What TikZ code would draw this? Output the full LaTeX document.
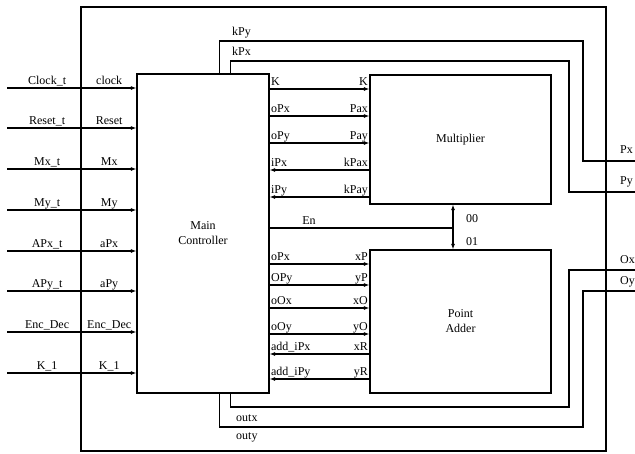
\documentclass[tikz,border=0pt]{standalone}
\usepackage{fontspec}
\setmainfont{Liberation Serif}
\usetikzlibrary{arrows.meta,calc}
\tikzset{
  chip/.style       = {draw, line width=1.5pt},
  block/.style      = {draw, line width=1.2pt, fill=white, inner sep=2pt, align=center},
  sig/.style        = {-{Latex[length=5.5pt,width=4pt]}, line width=1.1pt},
  bisig/.style      = {{Latex[length=5.5pt,width=4pt]}-{Latex[length=5.5pt,width=4pt]}, line width=1.1pt},
  wire/.style       = {line width=1.1pt},
  every node/.style = {font=\fontsize{12}{15}\selectfont},
  lbl/.style        = {inner sep=1pt, anchor=base, yshift=4pt},
  tag/.style        = {inner sep=1pt, anchor=base},
}

\begin{document}
\begin{tikzpicture}[x=1pt, y=-1pt]
  \useasboundingbox (0,0) rectangle (635,453);
  % boundary and blocks
  \node[chip, minimum width=525pt, minimum height=444pt] (top) at (343.5,229) {};
  \node[block, minimum width=132pt, minimum height=319pt] (main) at (203,233.5) {Main\\Controller};
  \node[block, minimum width=181pt, minimum height=129pt] (mult) at (460.5,139.5) {Multiplier};
  \node[block, minimum width=181pt, minimum height=143pt] (padd) at (460.5,321.5) {Point\\Adder};

  % top-level inputs
  \coordinate (clk) at (7,88);
  \coordinate (rst) at (7,128);
  \coordinate (mx)  at (7,169);
  \coordinate (my)  at (7,210);
  \coordinate (apx) at (7,251);
  \coordinate (apy) at (7,291);
  \coordinate (enc) at (7,332);
  \coordinate (kin) at (7,373);
  \draw[sig] (clk) -- (main.west |- clk) node[lbl, pos=.31] {Clock\_t} node[lbl, pos=.79] {clock};
  \draw[sig] (rst) -- (main.west |- rst) node[lbl, pos=.31] {Reset\_t} node[lbl, pos=.79] {Reset};
  \draw[sig] (mx) -- (main.west |- mx) node[lbl, pos=.31] {Mx\_t} node[lbl, pos=.79] {Mx};
  \draw[sig] (my) -- (main.west |- my) node[lbl, pos=.31] {My\_t} node[lbl, pos=.79] {My};
  \draw[sig] (apx) -- (main.west |- apx) node[lbl, pos=.31] {APx\_t} node[lbl, pos=.79] {aPx};
  \draw[sig] (apy) -- (main.west |- apy) node[lbl, pos=.31] {APy\_t} node[lbl, pos=.79] {aPy};
  \draw[sig] (enc) -- (main.west |- enc) node[lbl, pos=.31] {Enc\_Dec} node[lbl, pos=.79] {Enc\_Dec};
  \draw[sig] (kin) -- (main.west |- kin) node[lbl, pos=.31] {K\_1} node[lbl, pos=.79] {K\_1};

  % multiplier interface
  \coordinate (k)    at (320,89);
  \coordinate (mopx) at (320,116);
  \coordinate (mopy) at (320,143);
  \coordinate (ipx)  at (320,170);
  \coordinate (ipy)  at (320,197);
  \draw[sig] (main.east |- k) -- (mult.west |- k)
    node[lbl, anchor=base west, pos=0] {K} node[lbl, anchor=base east, pos=1] {K};
  \draw[sig] (main.east |- mopx) -- (mult.west |- mopx)
    node[lbl, anchor=base west, pos=0] {oPx} node[lbl, anchor=base east, pos=1] {Pax};
  \draw[sig] (main.east |- mopy) -- (mult.west |- mopy)
    node[lbl, anchor=base west, pos=0] {oPy} node[lbl, anchor=base east, pos=1] {Pay};
  \draw[sig] (mult.west |- ipx) -- (main.east |- ipx)
    node[lbl, anchor=base east, pos=0] {kPax} node[lbl, anchor=base west, pos=1] {iPx};
  \draw[sig] (mult.west |- ipy) -- (main.east |- ipy)
    node[lbl, anchor=base east, pos=0] {kPay} node[lbl, anchor=base west, pos=1] {iPy};

  % enable / select
  \coordinate (en) at (453,228);
  \draw[wire] (main.east |- en) -- (en) node[lbl, anchor=base west, pos=.17] {En};
  \draw[bisig] (mult.south -| en) -- (padd.north -| en);
  \node[tag] (sel0) at (472,222) {00};
  \node[tag] (sel1) at (472,245) {01};

  % point adder interface
  \coordinate (xp) at (320,264);
  \coordinate (yp) at (320,285);
  \coordinate (xo) at (320,308);
  \coordinate (yo) at (320,334);
  \coordinate (xr) at (320,354);
  \coordinate (yr) at (320,379);
  \draw[sig] (main.east |- xp) -- (padd.west |- xp)
    node[lbl, anchor=base west, pos=0] {oPx} node[lbl, anchor=base east, pos=1] {xP};
  \draw[sig] (main.east |- yp) -- (padd.west |- yp)
    node[lbl, anchor=base west, pos=0] {OPy} node[lbl, anchor=base east, pos=1] {yP};
  \draw[sig] (main.east |- xo) -- (padd.west |- xo)
    node[lbl, anchor=base west, pos=0] {oOx} node[lbl, anchor=base east, pos=1] {xO};
  \draw[sig] (main.east |- yo) -- (padd.west |- yo)
    node[lbl, anchor=base west, pos=0] {oOy} node[lbl, anchor=base east, pos=1] {yO};
  \draw[sig] (padd.west |- xr) -- (main.east |- xr)
    node[lbl, anchor=base east, pos=0] {xR} node[lbl, anchor=base west, pos=1] {add\_iPx};
  \draw[sig] (padd.west |- yr) -- (main.east |- yr)
    node[lbl, anchor=base east, pos=0] {yR} node[lbl, anchor=base west, pos=1] {add\_iPy};

  % results to the outputs
  \coordinate (px) at (635,161);
  \coordinate (py) at (635,192);
  \coordinate (ox) at (635,270);
  \coordinate (oy) at (635,291);
  \draw[wire] ([xshift=-50pt]main.north east) |- (583,41) |- (px);
  \draw[wire] ([xshift=-39pt]main.north east) |- (569,61) |- (py);
  \draw[wire] ([xshift=-39pt]main.south east) |- (569,407) |- (ox);
  \draw[wire] ([xshift=-50pt]main.south east) |- (583,427) |- (oy);
  \node[tag, anchor=base west] (kpy)  at (231,35)  {kPy};
  \node[tag, anchor=base west] (kpx)  at (231,55)  {kPx};
  \node[tag, anchor=base west] (outx) at (235,421) {outx};
  \node[tag, anchor=base west] (outy) at (235,439) {outy};
  \node[tag, anchor=base west] (pxl)  at (619,153) {Px};
  \node[tag, anchor=base west] (pyl)  at (619,184) {Py};
  \node[tag, anchor=base west] (oxl)  at (619,263) {Ox};
  \node[tag, anchor=base west] (oyl)  at (619,284) {Oy};
\end{tikzpicture}
\end{document}
